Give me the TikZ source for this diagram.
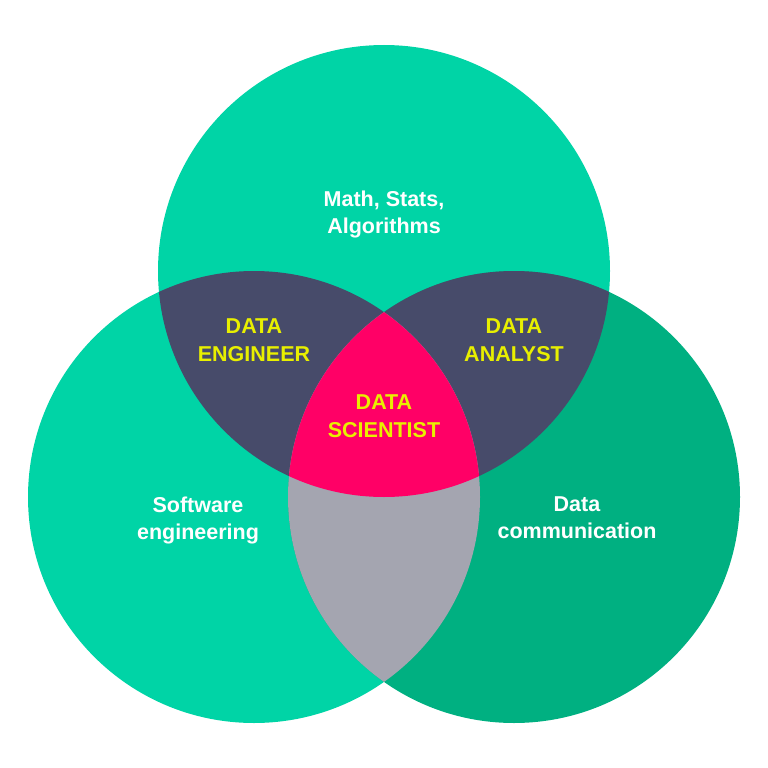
\documentclass[tikz,border=0pt]{standalone}
\usepackage{fontspec}
\setmainfont{Liberation Sans}
\definecolor{mint}{HTML}{00D4A6}
\definecolor{deepmint}{HTML}{00B081}
\definecolor{slate}{HTML}{474B6A}
\definecolor{hotpink}{HTML}{FF0066}
\definecolor{greyish}{HTML}{A4A5B0}
\definecolor{lemon}{HTML}{E8EF00}
\tikzset{
  whitelabel/.style={anchor=north, align=center, inner sep=0pt, text=white,
    font=\fontsize{21.5}{27}\selectfont\bfseries},
  rolelabel/.style={anchor=north, align=center, inner sep=0pt, text=lemon,
    font=\fontsize{21.5}{28}\selectfont\bfseries}
}
\begin{document}
\begin{tikzpicture}[x=1pt,y=-1pt]
\useasboundingbox (0,0) rectangle (768,768);
\def\R{226pt}
\coordinate (ctop) at (384,271);
\coordinate (cleft) at (254,497);
\coordinate (cright) at (514,497);
% circles
\fill[mint] (ctop) circle (\R);
\fill[mint] (cleft) circle (\R);
\fill[deepmint] (cright) circle (\R);
% pairwise intersections
\begin{scope}
  \clip (ctop) circle (\R);
  \fill[slate] (cleft) circle (\R);
  \fill[slate] (cright) circle (\R);
\end{scope}
\begin{scope}
  \clip (cleft) circle (\R);
  \fill[greyish] (cright) circle (\R);
\end{scope}
% triple intersection
\begin{scope}
  \clip (ctop) circle (\R);
  \clip (cleft) circle (\R);
  \fill[hotpink] (cright) circle (\R);
\end{scope}
% labels
\node[whitelabel] (math) at (384,190.5) {Math, Stats,\\Algorithms};
\node[whitelabel] (soft) at (198,497) {Software\\engineering};
\node[whitelabel] (comm) at (577,497) {Data\\communication};
\node[rolelabel] (eng) at (254,319) {DATA\\ENGINEER};
\node[rolelabel] (ana) at (514,319) {DATA\\ANALYST};
\node[rolelabel] (sci) at (384,395) {DATA\\SCIENTIST};
\end{tikzpicture}
\end{document}
